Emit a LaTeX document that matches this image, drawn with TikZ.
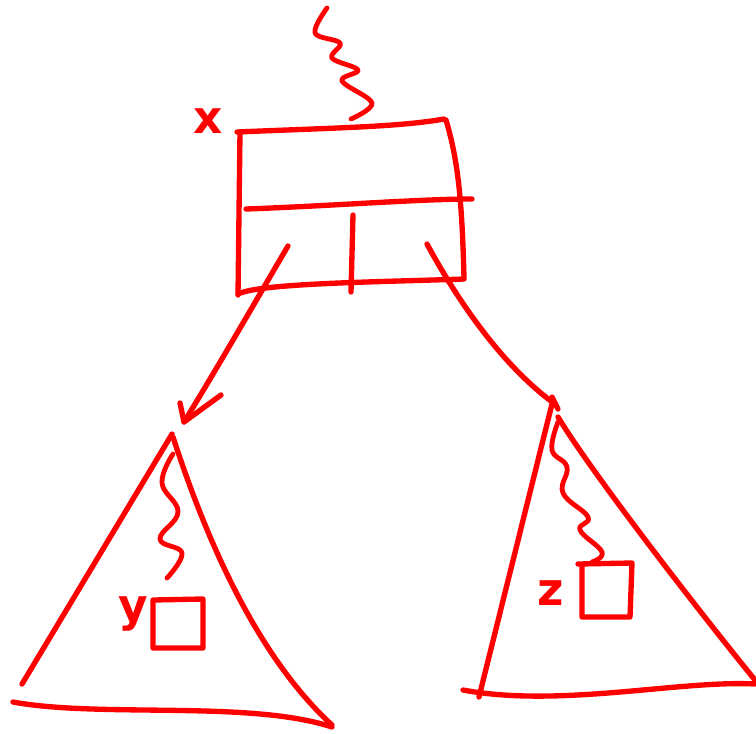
\documentclass[tikz,border=0pt]{standalone}
\usepackage{fontspec}
\newfontfamily\handfont{DejaVu Sans}
\usepackage{xcolor}
\usetikzlibrary{calc}
\definecolor{penred}{RGB}{255, 0, 0}
\tikzset{
    pen/.style    ={draw=penred, line width=4pt, line cap=round, line join=round},
    wiggle/.style ={pen, line width=3.6pt},
    tag/.style    ={text=penred, font=\handfont\bfseries\fontsize{34}{34}\selectfont, inner sep=0pt}
}

\begin{document}
\begin{tikzpicture}[x=0.75pt, y={(0pt,-0.75pt)}]
  \useasboundingbox (0,0) rectangle (756,733);

  % node x
  \draw[wiggle] plot[smooth, tension=0.6] coordinates
    {(327,8) (315,33) (340,43) (332,58) (358,70) (342,81) (372,103) (351,119)};
  \draw[pen] (237,132) .. controls (330,128) and (400,127) .. (444,119);
  \draw[pen] (446,120) .. controls (458,160) and (462,200) .. (464,278);
  \draw[pen] (464,279) .. controls (380,282) and (260,283) .. (238,294);
  \draw[pen] (240,132) -- (238,295);
  \draw[pen] (246,209) .. controls (330,206) and (420,199) .. (472,199);
  \draw[pen] (353,215) -- (351,292);
  \node[tag] (xlab) at (208,121) {x};

  \coordinate (xleft)  at (288,246);
  \coordinate (xright) at (427,244);
  \coordinate (yroot)  at (184,422);
  \coordinate (zroot)  at (555,404);

  % left child
  \draw[pen] (xleft) .. controls (265,285) and (215,372) .. (yroot);
  \draw[pen] (180,403) -- (yroot) -- (221,395);

  % right child
  \draw[pen] (xright) .. controls (460,305) and (505,368) .. (zroot);
  \draw[pen] (552,397) -- (558,409);

  % subtree of y
  \draw[pen] (172,434) -- (22,684);
  \draw[pen] (173,437) .. controls (200,520) and (250,650) .. (332,725);
  \draw[pen] (13,702) .. controls (100,718) and (250,700) .. (332,727);
  \draw[wiggle] plot[smooth, tension=0.7] coordinates
    {(173,454) (162,483) (178,512) (160,539) (182,553) (167,578)};
  \draw[pen] (153,600) -- (203,599) -- (203,648) -- (153,648) -- cycle;
  \node[tag] (ylab) at (133,614) {y};

  % subtree of z
  \draw[pen] (553,400) -- (479,697);
  \draw[pen] (558,417) .. controls (590,470) and (690,600) .. (755,680);
  \draw[pen] (463,690) .. controls (560,708) and (680,680) .. (755,684);
  \draw[wiggle] plot[smooth, tension=0.7] coordinates
    {(558,422) (552,450) (567,467) (563,493) (588,517) (580,530) (602,552) (592,562)};
  \draw[pen] (578,564) -- (632,563) -- (630,617) -- (582,617) -- (582,565);
  \node[tag] (zlab) at (551,593) {z};
\end{tikzpicture}
\end{document}
